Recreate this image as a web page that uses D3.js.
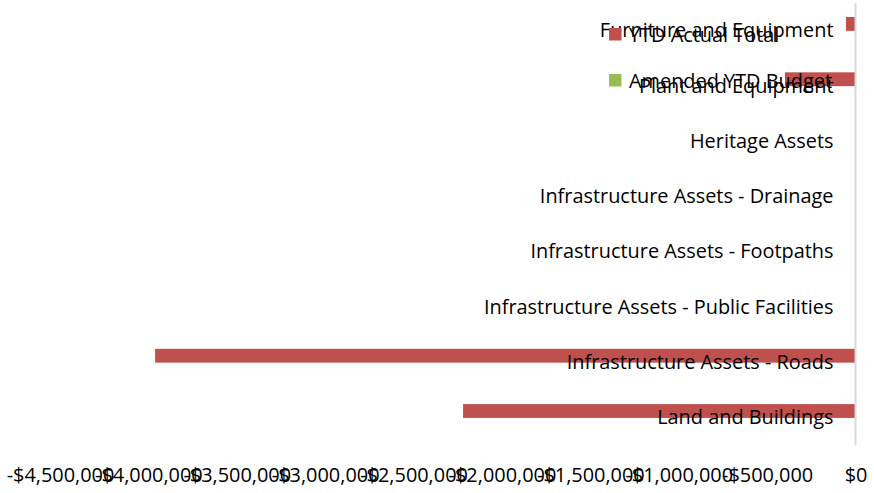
<!DOCTYPE html>
<html>
<head>
<meta charset="utf-8">
<script src="https://cdn.jsdelivr.net/npm/d3@7"></script>
<style>
  html, body { margin: 0; padding: 0; background: #ffffff; }
  svg { display: block; }
  text { font-family: "Open Sans", "Noto Sans", sans-serif; fill: #000; }
</style>
</head>
<body>
<svg id="chart" width="874" height="493"></svg>
<script>
// ---- data ----
const categories = [
  "Furniture and Equipment",
  "Plant and Equipment",
  "Heritage Assets",
  "Infrastructure Assets - Drainage",
  "Infrastructure Assets - Footpaths",
  "Infrastructure Assets - Public Facilities",
  "Infrastructure Assets - Roads",
  "Land and Buildings"
];
const seriesNames = ["YTD Actual Total", "Amended YTD Budget"];
const ytdActual = [-54000, -399000, 0, 0, 0, 0, -3962000, -2220000];
const amendedBudget = [0, 0, 0, 0, 0, 0, 0, 0];
const seriesColors = ["#C0504D", "#9BBB59"];
const tickValues = [-4500000, -4000000, -3500000, -3000000, -2500000, -2000000, -1500000, -1000000, -500000, 0];

// ---- layout ----
const svg = d3.select("#chart");
const plot = { left: 60, right: 855.5, top: 3.2, bottom: 445.6 };
const fontSize = "19.9px";

const x = d3.scaleLinear().domain([-4500000, 0]).range([plot.left, plot.right]);
const y = d3.scaleBand().domain(categories).range([plot.top, plot.bottom]).paddingInner(0).paddingOuter(0);
const bandH = y.bandwidth();
const barH = bandH / 4;
const ySub = d3.scaleBand().domain(seriesNames).range([barH, 3 * barH]);

const fmt = v => (v < 0 ? "-" : "") + "$" + d3.format(",")(Math.abs(v));

// bars
const series = [ytdActual, amendedBudget];
series.forEach((vals, si) => {
  svg.append("g").selectAll("rect")
    .data(categories.map((c, i) => ({ c, v: vals[i] })))
    .join("rect")
    .attr("x", d => x(Math.min(0, d.v)))
    .attr("width", d => Math.abs(x(d.v) - x(0)))
    .attr("y", d => y(d.c) + ySub(seriesNames[si]))
    .attr("height", ySub.bandwidth())
    .attr("fill", seriesColors[si]);
});

// vertical axis line at zero
svg.append("line")
  .attr("x1", x(0)).attr("x2", x(0))
  .attr("y1", plot.top).attr("y2", plot.bottom)
  .attr("stroke", "#d9d9d9").attr("stroke-width", 2);

// category labels (right aligned next to axis)
const yAxis = d3.axisLeft(y).tickSize(0).tickPadding(22);
const gy = svg.append("g").attr("transform", `translate(${x(0)},0)`).call(yAxis);
gy.select(".domain").remove();
gy.selectAll("text").style("font-size", fontSize).style("font-family", '"Open Sans", sans-serif').attr("fill", "#000");

// x axis tick labels
const xAxis = d3.axisBottom(x).tickValues(tickValues).tickFormat(fmt).tickSize(0).tickPadding(0);
const gx = svg.append("g").attr("transform", `translate(0,468)`).call(xAxis);
gx.select(".domain").remove();
gx.selectAll("text").style("font-size", fontSize).style("font-family", '"Open Sans", sans-serif').attr("fill", "#000").attr("dy", "0.71em");

// legend
const legend = svg.append("g").attr("transform", "translate(609,28)");
seriesNames.forEach((name, i) => {
  const g = legend.append("g").attr("transform", `translate(0,${i * 46})`);
  g.append("rect").attr("width", 12.5).attr("height", 12.5).attr("fill", seriesColors[i]);
  g.append("text").attr("x", 20).attr("y", 7).attr("dy", "0.35em")
    .style("font-size", fontSize).text(name);
});
</script>
</body>
</html>
